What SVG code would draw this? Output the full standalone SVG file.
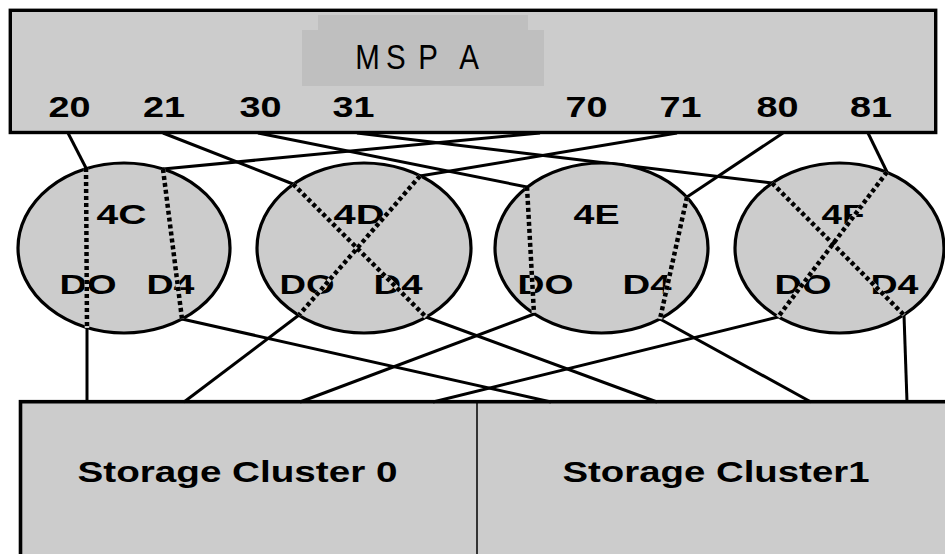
<svg xmlns="http://www.w3.org/2000/svg" width="945" height="554" viewBox="0 0 945 554">
  <style>
    .box { fill: #cccccc; stroke: #000; stroke-width: 3.4; }
    .ell { fill: #cccccc; stroke: #000; stroke-width: 3.2; }
    .inner { fill: #bfbfbf; }
    .c { stroke: #000; stroke-width: 3; fill: none; }
    .under { stroke: #cccccc; stroke-width: 4.5; fill: none; }
    .dot { stroke: #000; stroke-width: 4.5; stroke-dasharray: 4 3; fill: none; }
    .port { font-family: "Liberation Sans", Arial, sans-serif; font-weight: bold; font-size: 30px; fill: #000; text-anchor: middle; }
    .lbl { font-family: "Liberation Sans", Arial, sans-serif; font-weight: bold; font-size: 28px; fill: #000; text-anchor: middle; }
    .title { font-family: "Liberation Sans", Arial, sans-serif; font-size: 36px; fill: #000; text-anchor: middle; }
    .sc { font-family: "Liberation Sans", Arial, sans-serif; font-weight: bold; font-size: 30px; fill: #000; text-anchor: middle; }
  </style>

  <g id="mspa">
    <rect class="box" x="10.3" y="10.3" width="925.4" height="122.2"/>
    <rect class="inner" x="318" y="15" width="210" height="71"/>
    <rect class="inner" x="302" y="30" width="242" height="56"/>
    <text class="title" transform="translate(0,69) scale(0.82,1)"><tspan x="448.2" y="0">M</tspan><tspan x="482.9" y="0">S</tspan><tspan x="522" y="0">P</tspan><tspan x="572" y="0">A</tspan></text>
    <text class="port" x="69.5" y="117" textLength="42" lengthAdjust="spacingAndGlyphs">20</text>
    <text class="port" x="164" y="117" textLength="42" lengthAdjust="spacingAndGlyphs">21</text>
    <text class="port" x="260.5" y="117" textLength="42" lengthAdjust="spacingAndGlyphs">30</text>
    <text class="port" x="353.5" y="117" textLength="42" lengthAdjust="spacingAndGlyphs">31</text>
    <text class="port" x="586.5" y="117" textLength="42" lengthAdjust="spacingAndGlyphs">70</text>
    <text class="port" x="680.5" y="117" textLength="42" lengthAdjust="spacingAndGlyphs">71</text>
    <text class="port" x="777.5" y="117" textLength="42" lengthAdjust="spacingAndGlyphs">80</text>
    <text class="port" x="871" y="117" textLength="42" lengthAdjust="spacingAndGlyphs">81</text>
  </g>

  <g id="storage">
    <rect class="box" x="20.5" y="401.7" width="940" height="160" style="stroke-width:3.6"/>
    <line x1="477" y1="402" x2="477" y2="556" stroke="#000" stroke-width="1.5"/>
    <g id="cluster0">
      <text class="sc" x="237.5" y="482" textLength="320" lengthAdjust="spacingAndGlyphs">Storage Cluster 0</text>
    </g>
    <g id="cluster1">
      <text class="sc" x="716" y="482" textLength="307" lengthAdjust="spacingAndGlyphs">Storage Cluster1</text>
    </g>
  </g>

  <g id="connectors">
    <!-- MSPA ports to directors -->
    <line class="c" x1="68" y1="133" x2="86" y2="168"/>
    <line class="c" x1="163" y1="133" x2="293" y2="184"/>
    <line class="c" x1="258" y1="133" x2="527" y2="187"/>
    <line class="c" x1="357" y1="133" x2="772" y2="183"/>
    <line class="c" x1="540" y1="133" x2="163" y2="169"/>
    <line class="c" x1="677" y1="133" x2="420" y2="176"/>
    <line class="c" x1="783" y1="133" x2="687" y2="197"/>
    <line class="c" x1="868" y1="133" x2="887" y2="172"/>
    <!-- directors to storage clusters -->
    <line class="c" x1="87" y1="328" x2="87" y2="402"/>
    <line class="c" x1="182" y1="319" x2="551" y2="402"/>
    <line class="c" x1="299" y1="315" x2="184" y2="402"/>
    <line class="c" x1="426" y1="317" x2="657" y2="402"/>
    <line class="c" x1="534" y1="314" x2="300" y2="402"/>
    <line class="c" x1="660" y1="319" x2="811" y2="402"/>
    <line class="c" x1="778" y1="317" x2="433" y2="402"/>
    <line class="c" x1="904" y1="315" x2="907" y2="402"/>
  </g>

  <g id="dir-4c">
    <ellipse class="ell" cx="124" cy="248" rx="106" ry="85"/>
    <text class="lbl" x="121.5" y="224" textLength="50" lengthAdjust="spacingAndGlyphs">4C</text>
    <text class="lbl" x="88" y="294" textLength="57" lengthAdjust="spacingAndGlyphs">DO</text>
    <text class="lbl" x="170.5" y="294" textLength="48" lengthAdjust="spacingAndGlyphs">D4</text>
    <path class="under" d="M86,168 L87,328 M163,169 L182,319"/>
    <path class="dot" d="M86,168 L87,328 M163,169 L182,319"/>
  </g>

  <g id="dir-4d">
    <ellipse class="ell" cx="364" cy="248" rx="107" ry="85"/>
    <text class="lbl" x="359" y="224" textLength="51" lengthAdjust="spacingAndGlyphs">4D</text>
    <text class="lbl" x="307" y="294" textLength="55" lengthAdjust="spacingAndGlyphs">DO</text>
    <text class="lbl" x="398" y="294" textLength="49" lengthAdjust="spacingAndGlyphs">D4</text>
    <path class="under" d="M293,184 L426,317 M420,176 L299,315"/>
    <path class="dot" d="M293,184 L426,317 M420,176 L299,315"/>
  </g>

  <g id="dir-4e">
    <ellipse class="ell" cx="601.5" cy="248" rx="106.5" ry="85"/>
    <text class="lbl" x="596.5" y="224" textLength="46" lengthAdjust="spacingAndGlyphs">4E</text>
    <text class="lbl" x="545.5" y="294" textLength="56" lengthAdjust="spacingAndGlyphs">DO</text>
    <text class="lbl" x="647" y="294" textLength="49" lengthAdjust="spacingAndGlyphs">D4</text>
    <path class="under" d="M527,187 L534,314 M687,197 L660,319"/>
    <path class="dot" d="M527,187 L534,314 M687,197 L660,319"/>
  </g>

  <g id="dir-4f">
    <ellipse class="ell" cx="839.5" cy="248" rx="104.5" ry="85"/>
    <text class="lbl" x="843" y="224" textLength="43" lengthAdjust="spacingAndGlyphs">4F</text>
    <text class="lbl" x="803" y="294" textLength="57" lengthAdjust="spacingAndGlyphs">DO</text>
    <text class="lbl" x="894.5" y="294" textLength="48" lengthAdjust="spacingAndGlyphs">D4</text>
    <path class="under" d="M772,183 L904,315 M887,172 L778,317"/>
    <path class="dot" d="M772,183 L904,315 M887,172 L778,317"/>
  </g>
</svg>
